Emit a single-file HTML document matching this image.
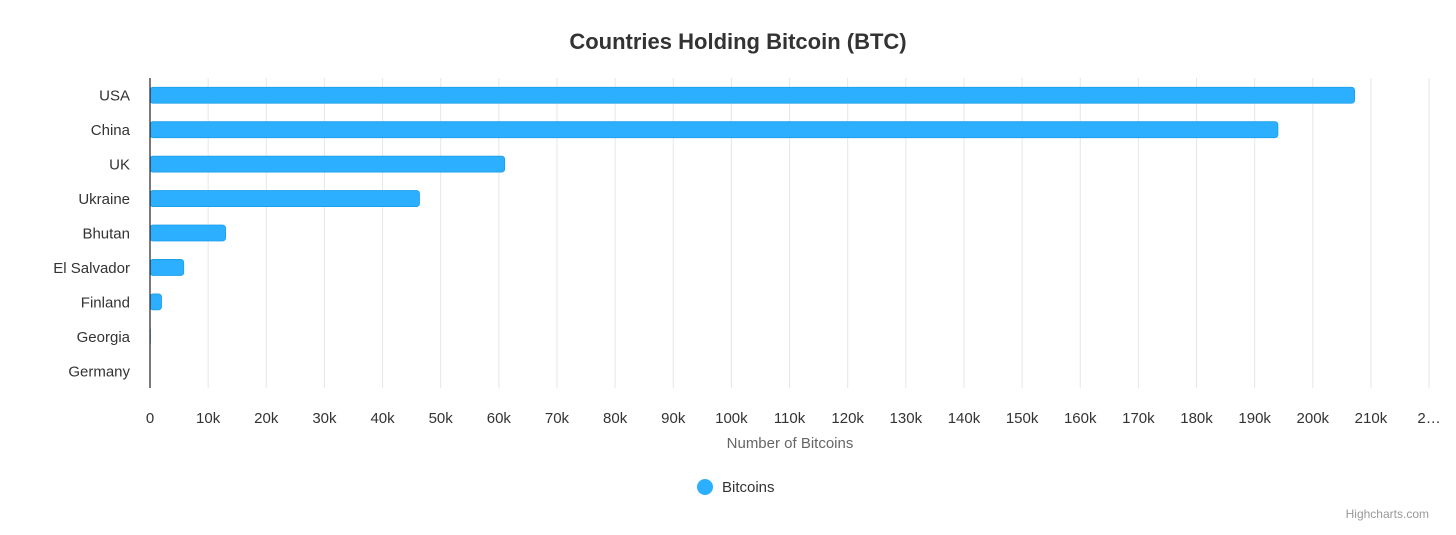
<!DOCTYPE html>
<html><head><meta charset="utf-8"><style>
body{margin:0;background:#fff;font-family:"Liberation Sans",sans-serif}
svg{display:block}
</style></head><body>
<svg id="chart" width="1456" height="535">
<text x="738" y="49" text-anchor="middle" font-size="22" font-weight="bold" fill="#333">Countries Holding Bitcoin (BTC)</text>
<g id="grid"></g><g id="bars"></g><g id="ylabels"></g><g id="xlabels"></g>
<line x1="150" y1="78" x2="150" y2="388" stroke="#222" stroke-width="1.2"/>
<text x="790" y="448" text-anchor="middle" font-size="15" fill="#666">Number of Bitcoins</text>
<g><circle cx="705" cy="487" r="8" fill="#2caffe"/><text x="722" y="492" font-size="15" fill="#333">Bitcoins</text></g>
<text x="1429" y="518" text-anchor="end" font-size="12" fill="#999">Highcharts.com</text>
</svg>
<script>
const categories=["USA","China","UK","Ukraine","Bhutan","El Salvador","Finland","Georgia","Germany"];
const values=[207189,194000,61000,46351,13000,5800,1981,66,0];
const tickValues=[0,10000,20000,30000,40000,50000,60000,70000,80000,90000,100000,110000,120000,130000,140000,150000,160000,170000,180000,190000,200000,210000,220000];
const tickLabels=["0","10k","20k","30k","40k","50k","60k","70k","80k","90k","100k","110k","120k","130k","140k","150k","160k","170k","180k","190k","200k","210k","2…"];
const NS="http://www.w3.org/2000/svg";
const x0=150,pxPer=58.14/10000,plotTop=78,plotBottom=388;
const xs=v=>x0+v*pxPer;
const band=(plotBottom-plotTop)/categories.length;
const yc=i=>plotTop+band*(i+0.5);
function mk(t,a,p){const e=document.createElementNS(NS,t);for(const k in a)e.setAttribute(k,a[k]);p.appendChild(e);return e;}
const grid=document.getElementById('grid'),xl=document.getElementById('xlabels');
tickValues.forEach((v,i)=>{
 if(v>0){const l=mk('line',{x1:xs(v),x2:xs(v),y1:plotTop,y2:plotBottom,stroke:'#e6e6e6','stroke-width':1},grid);
 
 }
 const t=mk('text',{x:xs(v),y:423,'text-anchor':'middle','font-size':15,fill:'#333'},xl);
 t.textContent=tickLabels[i];
 
 
});
const bars=document.getElementById('bars'),yl=document.getElementById('ylabels');
categories.forEach((c,i)=>{
 const w=xs(values[i])-x0;
 if(w>0){const r=mk('rect',{x:x0,y:yc(i)-8,width:w,height:16,rx:3,fill:'#2caffe',stroke:'#1a9ee8','stroke-width':0.8},bars);
 
 }
 const t=mk('text',{x:130,y:yc(i)+5.5,'text-anchor':'end','font-size':15,fill:'#333'},yl);
 t.textContent=c;
 
 
});
</script>
</body></html>
